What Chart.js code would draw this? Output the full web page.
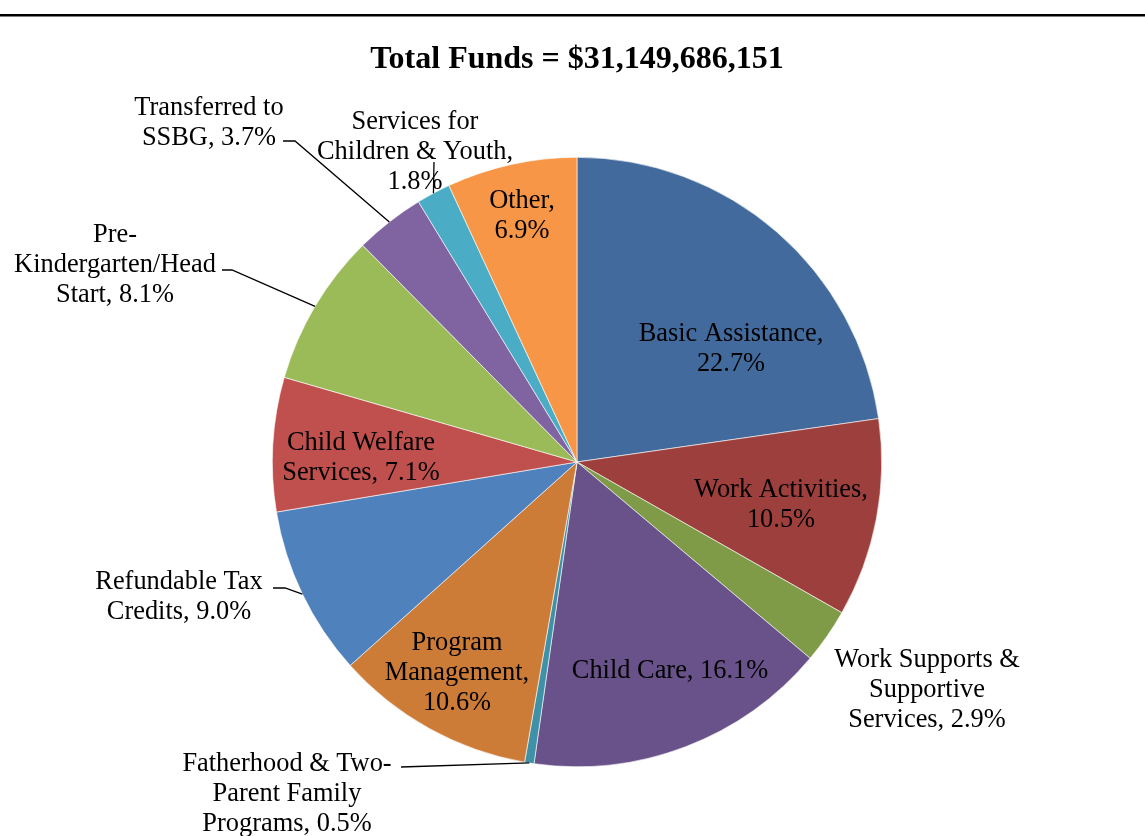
<!DOCTYPE html>
<html>
<head>
<meta charset="utf-8">
<script src="https://cdn.jsdelivr.net/npm/chart.js@4.4.0/dist/chart.umd.min.js"></script>
<style>
    html, body { margin: 0; padding: 0; background: #ffffff; }
    #wrap { position: relative; width: 1145px; height: 836px; }
</style>
</head>
<body>
<div id="wrap"><canvas id="myChart" width="1145" height="836"></canvas></div>
<script>
// chart data, clockwise from 12 o'clock
const categories = [
    'Basic Assistance', 'Work Activities', 'Work Supports & Supportive Services', 'Child Care',
    'Fatherhood & Two-Parent Family Programs', 'Program Management', 'Refundable Tax Credits',
    'Child Welfare Services', 'Pre-Kindergarten/Head Start', 'Transferred to SSBG',
    'Services for Children & Youth', 'Other'
];
const shares = [22.7, 10.5, 2.9, 16.1, 0.5, 10.6, 9.0, 7.1, 8.1, 3.7, 1.8, 6.9];
const sliceColors = [
    '#426A9C', '#9D3F3C', '#7F9B48', '#69518A', '#3F91A8', '#CD7C38',
    '#4F81BD', '#C0504D', '#9BBB59', '#8064A2', '#4BACC6', '#F79646'
];
const chartTitle = 'Total Funds = $31,149,686,151';

// how each data label is broken into lines
const labelLines = [
    ['Basic Assistance,', '22.7%'],
    ['Work Activities,', '10.5%'],
    ['Work Supports &', 'Supportive', 'Services, 2.9%'],
    ['Child Care, 16.1%'],
    ['Fatherhood & Two-', 'Parent Family', 'Programs, 0.5%'],
    ['Program', 'Management,', '10.6%'],
    ['Refundable Tax', 'Credits, 9.0%'],
    ['Child Welfare', 'Services, 7.1%'],
    ['Pre-', 'Kindergarten/Head', 'Start, 8.1%'],
    ['Transferred to', 'SSBG, 3.7%'],
    ['Services for', 'Children & Youth,', '1.8%'],
    ['Other,', '6.9%']
];

// label placement (centre x, first line y) and leader line elbow, if any
const labelPos = [
    { x: 731, y: 332 },
    { x: 781, y: 488 },
    { x: 927, y: 658 },
    { x: 670, y: 669 },
    { x: 287, y: 762, leader: [[401, 767]] },
    { x: 457, y: 641 },
    { x: 179, y: 580, leader: [[273, 588], [285, 588]] },
    { x: 361, y: 441 },
    { x: 115, y: 233, leader: [[222, 270], [232, 270]] },
    { x: 209, y: 106, leader: [[283, 141], [295, 141]] },
    { x: 415, y: 120, leader: [[434, 162]] },
    { x: 522, y: 199 }
];

const LABEL_FONT = '26.4px "Liberation Serif", "Times New Roman", serif';
const LINE_H = 30;

const overlay = {
    id: 'overlay',
    afterDraw(chart) {
        const ctx = chart.ctx;
        ctx.save();

        // rule across the top of the page
        ctx.fillStyle = '#000000';
        ctx.fillRect(0, 14, chart.width, 2.5);

        // title
        ctx.font = 'bold 32px "Liberation Serif", "Times New Roman", serif';
        ctx.textAlign = 'center';
        ctx.textBaseline = 'middle';
        ctx.fillText(chartTitle, 577, 60);

        const arcs = chart.getDatasetMeta(0).data;
        ctx.font = LABEL_FONT;
        ctx.strokeStyle = '#000000';
        ctx.lineWidth = 1.3;
        arcs.forEach((arc, i) => {
            const p = labelPos[i];
            if (p.leader) {
                // leader ends on the outer edge at the slice's mid angle
                const mid = (arc.startAngle + arc.endAngle) / 2;
                const ex = arc.x + arc.outerRadius * Math.cos(mid);
                const ey = arc.y + arc.outerRadius * Math.sin(mid);
                ctx.beginPath();
                ctx.moveTo(p.leader[0][0], p.leader[0][1]);
                for (let k = 1; k < p.leader.length; k++) {
                    ctx.lineTo(p.leader[k][0], p.leader[k][1]);
                }
                ctx.lineTo(ex, ey);
                ctx.stroke();
            }
            ctx.fillStyle = '#000000';
            labelLines[i].forEach((line, k) => {
                ctx.fillText(line, p.x, p.y + 2 + k * LINE_H);
            });
        });
        ctx.restore();
    }
};

const ctx = document.getElementById('myChart').getContext('2d');
const myChart = new Chart(ctx, {
    type: 'pie',
    data: {
        labels: categories,
        datasets: [{
            data: shares,
            backgroundColor: sliceColors,
            borderColor: '#ffffff',
            borderWidth: 0.6
        }]
    },
    options: {
        responsive: false,
        animation: false,
        layout: {
            padding: { left: 272, right: 263, top: 157, bottom: 69 }
        },
        plugins: {
            legend: { display: false },
            tooltip: { enabled: false },
            title: { display: false }
        }
    },
    plugins: [overlay]
});
</script>
</body>
</html>
